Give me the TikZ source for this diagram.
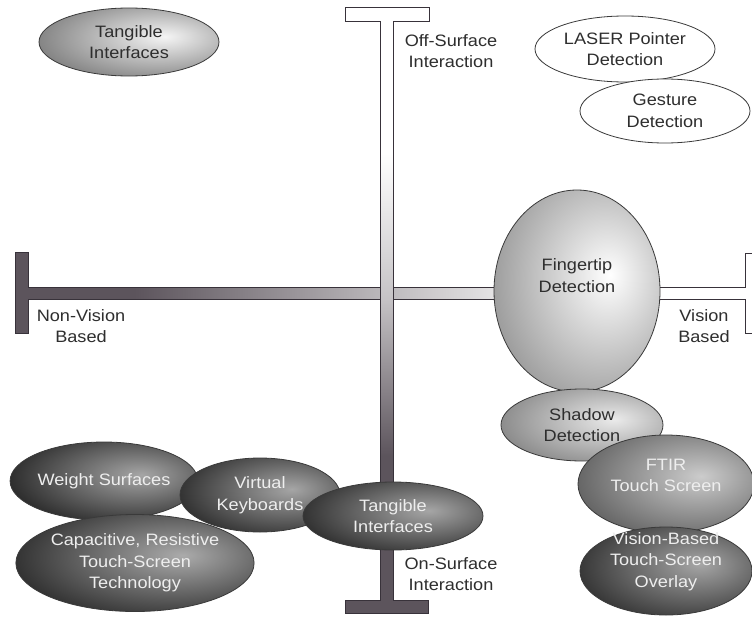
\documentclass[tikz,border=0pt]{standalone}
\usepackage{fontspec}
\setmainfont{Liberation Sans}[FakeStretch=1.1]
\usetikzlibrary{shapes.geometric}

\definecolor{barc}{HTML}{5C545C}
\definecolor{barline}{HTML}{38323A}
\definecolor{edge}{HTML}{3A3A3A}
\definecolor{darktext}{HTML}{2E2E2E}
\definecolor{lighttext}{HTML}{EEEEEE}
\colorlet{ellin}{white}
\colorlet{ellout}{gray}

% axis bars: dark on the non-vision / on-surface ends, fading to white
\pgfdeclarehorizontalshading{hbarshade}{100bp}{color(0bp)=(barc); color(33bp)=(barc); color(50bp)=(barc!40!white); color(62bp)=(white); color(100bp)=(white)}
\pgfdeclareverticalshading{vbarshade}{100bp}{color(0bp)=(barc); color(38bp)=(barc); color(51bp)=(barc!35!white); color(63bp)=(white); color(100bp)=(white)}
% ellipse fill: highlight right of centre
\pgfdeclareradialshading[ellin,ellout]{ellshade}{\pgfpoint{10bp}{4bp}}{color(0bp)=(ellin); color(32bp)=(ellout); color(100bp)=(ellout)}

% text block raised above the centre of its ellipse
\newcommand{\liftedtext}[2]{\raisebox{#1}[0pt][0pt]{\begin{tabular}{@{}c@{}}#2\end{tabular}}}

\tikzset{
  bar/.style={draw=barline, line width=1pt, line join=miter},
  ell/.style={ellipse, draw=edge, line width=0.8pt, inner sep=0pt, align=center,
    shade, shading=ellshade, text=darktext},
  plainell/.style={ellipse, draw=edge, line width=0.8pt, inner sep=0pt, align=center,
    fill=white, text=darktext},
  grad/.code 2 args={\colorlet{ellin}{#1}\colorlet{ellout}{#2}},
  sz/.style 2 args={minimum width=#1, minimum height=#2},
  axlabel/.style={align=center, text=darktext, inner sep=0pt},
}

\begin{document}
\begin{tikzpicture}[x=1pt, y=-1pt, font=\fontsize{16.5}{21.5}\selectfont]
\useasboundingbox (0,0) rectangle (752,618);
\fill[white] (0,0) rectangle (752,618);
\clip (0,0) rectangle (752,618);

% horizontal axis (non-vision <-> vision)
\path[bar, shading=hbarshade] (15,252) -- (28,252) -- (28,287) -- (745,287) -- (745,253)
  -- (762,253) -- (762,333) -- (745,333) -- (745,299) -- (28,299) -- (28,333) -- (15,333) -- cycle;

% vertical axis (off-surface <-> on-surface)
\path[bar, shading=vbarshade] (345,8) -- (429,8) -- (429,22) -- (393,22) -- (393,600)
  -- (428,600) -- (428,613) -- (345,613) -- (345,600) -- (380,600) -- (380,22)
  -- (345,22) -- cycle;

% axis labels
\node[axlabel] (off) at (451,51) {Off-Surface\\Interaction};
\node[axlabel] (nonvis) at (81,326) {Non-Vision\\Based};
\node[axlabel] (vis) at (704,326) {Vision\\Based};
\node[axlabel] (on) at (451,574) {On-Surface\\Interaction};

% off-surface techniques
\node[ell, grad={black!4}{black!48}, sz={180}{68}] (tang1) at (129,42) {Tangible\\Interfaces};
\node[plainell, sz={180}{66}] (laser) at (625,49) {LASER Pointer\\Detection};
\node[plainell, sz={170}{64}] (gest) at (665,111) {Gesture\\Detection};

% vision-based techniques
\node[ell, grad={white}{black!38}, sz={166}{202}] (finger) at (577,291)
  {\liftedtext{9.5pt}{Fingertip\\Detection}};
\node[ell, grad={black!8}{black!45}, sz={162}{72}] (shadow) at (582,425) {Shadow\\Detection};
\node[ell, grad={black!20}{black!60}, sz={176}{98}, text=lighttext] (ftir) at (666,484)
  {\liftedtext{3pt}{FTIR\\Touch Screen}};
\node[ell, grad={black!35}{black!78}, sz={172}{88}, text=lighttext] (overlay) at (666,571)
  {\liftedtext{5pt}{Vision-Based\\Touch-Screen\\Overlay}};

% non-vision, on-surface techniques
\node[ell, grad={black!35}{black!82}, sz={178}{78}, text=lighttext] (weight) at (104,481) {Weight Surfaces};
\node[ell, grad={black!33}{black!80}, sz={206}{97}, text=lighttext] (capac) at (135,563)
  {Capacitive, Resistive\\Touch-Screen\\Technology};
\node[ell, grad={black!35}{black!80}, sz={160}{74}, text=lighttext] (virt) at (260,495) {Virtual\\Keyboards};
\node[ell, grad={black!35}{black!80}, sz={180}{68}, text=lighttext] (tang2) at (393,516) {Tangible\\Interfaces};
\end{tikzpicture}
\end{document}
